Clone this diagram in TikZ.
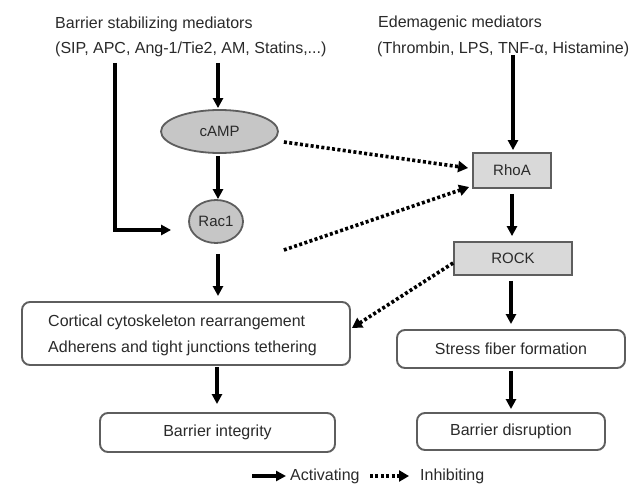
\documentclass[tikz,border=0pt]{standalone}
\usepackage{fontspec}
\setmainfont{Liberation Sans}
\usetikzlibrary{arrows.meta,shapes.geometric,calc}
\definecolor{txt}{HTML}{2A2A2A}
\definecolor{ellfill}{HTML}{C6C6C6}
\definecolor{boxfill}{HTML}{D9D9D9}
\definecolor{edge}{HTML}{5E5E5E}
\begin{document}
\begin{tikzpicture}[x=1pt,y=-1pt,
  lbl/.style={font=\fontsize{16pt}{19pt}\selectfont, text=txt, inner sep=0pt},
  small/.style={font=\fontsize{15pt}{18pt}\selectfont, text=txt, inner sep=0pt},
  ell/.style={ellipse, draw=edge, fill=ellfill, line width=1.8pt, inner sep=0pt, small},
  gbox/.style={rectangle, draw=edge, fill=boxfill, line width=1.8pt, inner sep=0pt, small},
  wbox/.style={rectangle, rounded corners=8pt, draw=edge, line width=1.9pt, inner sep=0pt, lbl},
  act/.style={line width=3.2pt, draw=black, -{Triangle[length=10pt,width=10pt]}},
  inh/.style={line width=3.6pt, draw=black, dash pattern=on 3pt off 2.4pt, -{Triangle[length=10pt,width=11pt]}},
]
\useasboundingbox (0,0) rectangle (637,484);
\fill[white] (0,0) rectangle (637,484);

% header texts
\node[lbl, anchor=base west] (bsm) at (55,29) {Barrier stabilizing mediators};
\node[lbl, anchor=base west] (bsl) at (55,54) {(SIP, APC, Ang-1/Tie2, AM, Statins,...)};
\node[lbl, anchor=base west] (edm) at (378,28) {Edemagenic mediators};
\node[lbl, anchor=base west] (edl) at (377,54) {(Thrombin, LPS, TNF-α, Histamine)};

% signalling nodes
\node[ell, minimum width=117pt, minimum height=43pt] (camp) at (219.5,131.5) {cAMP};
\node[ell, minimum width=54pt, minimum height=43pt] (rac) at (216,221.5) {Rac1};
\node[gbox, minimum width=78pt, minimum height=35pt] (rhoa) at (512,170.5) {RhoA};
\node[gbox, minimum width=118pt, minimum height=33pt] (rock) at (513,258.5) {ROCK};

% outcome boxes
\node[wbox, minimum width=328pt, minimum height=63pt] (big) at (186,333.5) {};
\node[lbl, anchor=base west] (bigt1) at (48,326) {Cortical cytoskeleton rearrangement};
\node[lbl, anchor=base west] (bigt2) at (48,352) {Adherens and tight junctions tethering};
\node[wbox, minimum width=235pt, minimum height=39pt] (integ) at (217.5,432.5) {Barrier integrity};
\node[wbox, minimum width=228pt, minimum height=38pt] (stress) at (511,349) {Stress fiber formation};
\node[wbox, minimum width=188pt, minimum height=37pt] (disr) at (511,431.5) {Barrier disruption};

% sources of arrows
\coordinate (srcL) at (115,63);
\coordinate (srcC) at (218,63);
\coordinate (srcR) at (513,55);

% activating arrows
\draw[act] (srcL) |- ($(rac.west)+(-17,8.5)$);
\draw[act, shorten >=1pt] (srcC) -- (srcC |- camp.north);
\draw[act, shorten <=2pt] (camp.south -| srcC) -- (srcC |- rac.north);
\draw[act, shorten <=10pt, shorten >=5pt] (rac.south -| srcC) -- (srcC |- big.north);
\draw[act, shorten <=1pt, shorten >=8pt] ($(big.south)+(31,0)$) -- (integ.north -| {$(big.south)+(31,0)$});
\draw[act, shorten >=2pt] (srcR) -- (srcR |- rhoa.north);
\draw[act, shorten <=5pt, shorten >=5pt] (rhoa.south) -- (rhoa.south |- rock.north);
\draw[act, shorten <=5pt, shorten >=5pt] (stress.north |- rock.south) -- (stress.north);
\draw[act, shorten <=2pt, shorten >=3pt] (stress.south) -- (disr.north);

% inhibiting arrows
\draw[inh] ($(camp.east)+(5,10.5)$) -- ($(rhoa.west)+(-4,-2.5)$);
\draw[inh] ($(rac.east)+(40,28.5)$) -- ($(rhoa.west)+(-3,16.5)$);
\draw[inh] ($(rock.west)+(0,4.5)$) -- ($(big.east)+(1,-5.5)$);

% legend
\coordinate (la1) at (252,476);
\coordinate (la2) at (286,476);
\draw[act, line width=4.4pt] (la1) -- (la2);
\node[lbl, anchor=west] (lact) at (290,476) {Activating};
\coordinate (li1) at (370,476);
\coordinate (li2) at (409,476);
\draw[inh] (li1) -- (li2);
\node[lbl, anchor=west] (linh) at (420,476) {Inhibiting};
\end{tikzpicture}
\end{document}
